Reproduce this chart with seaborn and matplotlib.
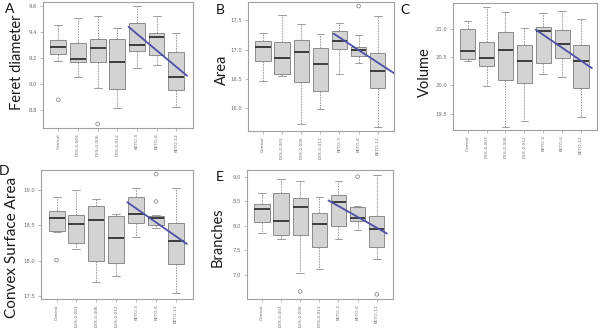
import matplotlib
matplotlib.use("Agg")
import matplotlib.pyplot as plt
import numpy as np
import pandas as pd
import seaborn as sns

groups = ["Control", "DES-0.003", "DES-0.006", "DES-0.012", "KETO-3", "KETO-6", "KETO-12"]

# Per group: lower whisker, Q1, median, Q3, upper whisker
feret = [
    [9.180, 9.228, 9.282, 9.338, 9.454],
    [9.056, 9.167, 9.195, 9.313, 9.513],
    [8.969, 9.172, 9.279, 9.346, 9.523],
    [8.813, 8.959, 9.172, 9.344, 9.430],
    [9.126, 9.254, 9.300, 9.467, 9.600],
    [9.146, 9.223, 9.364, 9.397, 9.526],
    [8.818, 8.954, 9.056, 9.244, 9.397],
]
feret_outliers = [("Control", 8.877), ("DES-0.006", 8.690)]
feret_trend_x = [3.57, 6.55]
feret_trend_y = [9.441, 9.062]

area = [
    [16.46, 16.80, 17.051, 17.148, 17.29],
    [16.557, 16.585, 16.858, 17.13, 17.585],
    [15.74, 16.45, 16.966, 17.17, 17.43],
    [15.99, 16.30, 16.756, 17.034, 17.26],
    [16.58, 17.017, 17.142, 17.324, 17.455],
    [16.78, 16.886, 17.00, 17.045, 17.25],
    [15.68, 16.347, 16.642, 16.95, 17.574],
]
area_outliers = [("KETO-6", 17.74)]
area_trend_x = [3.70, 6.84]
area_trend_y = [17.27, 16.60]

volume = [
    [20.43, 20.465, 20.612, 20.994, 21.147],
    [19.99, 20.353, 20.488, 20.77, 21.38],
    [19.265, 20.09, 20.635, 20.94, 21.306],
    [19.38, 20.035, 20.424, 20.72, 21.01],
    [20.206, 20.406, 20.965, 21.035, 21.28],
    [20.147, 20.494, 20.74, 20.98, 21.31],
    [19.44, 19.947, 20.44, 20.71, 21.18],
]
volume_outliers = []
volume_trend_x = [3.60, 6.58]
volume_trend_y = [20.988, 20.306]

convex = [
    [18.40, 18.42, 18.608, 18.698, 18.90],
    [18.17, 18.245, 18.524, 18.646, 19.01],
    [17.698, 17.995, 18.58, 18.77, 18.873],
    [17.774, 17.958, 18.325, 18.637, 18.66],
    [18.33, 18.528, 18.665, 18.90, 19.03],
    [18.46, 18.51, 18.60, 18.64, 18.645],
    [17.533, 17.953, 18.283, 18.528, 19.033],
]
convex_outliers = [("Control", 18.005), ("KETO-6", 19.23), ("KETO-6", 18.84)]
convex_trend_x = [3.55, 6.54]
convex_trend_y = [18.83, 18.236]

branches = [
    [7.855, 8.084, 8.34, 8.441, 8.663],
    [7.72, 7.82, 8.104, 8.67, 8.96],
    [7.04, 7.82, 8.387, 8.562, 8.92],
    [7.114, 7.572, 8.03, 8.26, 8.576],
    [7.72, 8.00, 8.481, 8.616, 8.92],
    [7.916, 8.098, 8.165, 8.387, 8.40],
    [7.317, 7.566, 7.93, 8.192, 9.04],
]
branches_outliers = [("DES-0.006", 6.663), ("KETO-6", 9.00), ("KETO-12", 6.603)]
branches_trend_x = [3.48, 6.53]
branches_trend_y = [8.515, 7.842]

BOX_FACE = "#d3d3d3"
BOX_EDGE = "#8c8c8c"
MEDIAN = "#3c3c3c"
FRAME = "#a0a0a0"
TICK_TEXT = "#6e6e6e"
TREND = "#4f4fa8"

sns.set_style("white")
plt.rcParams["font.family"] = ["Lato", "DejaVu Sans"]

W, H = 600, 331
fig = plt.figure(figsize=(6.0, 3.31), dpi=100)


def px_rect(left, top, right, bottom):
    return [left / W, 1 - bottom / H, (right - left) / W, (bottom - top) / H]


def draw_panel(box, stats, outliers, tx, ty, ylim, yticks, ylabel, lab_xy, lab_size,
               letter, letter_xy):
    ax = fig.add_axes(px_rect(*box))
    rows = [{"group": g, "value": v} for g, s in zip(groups, stats) for v in s]
    df = pd.DataFrame(rows)
    sns.boxplot(
        data=df, x="group", y="value", order=groups, ax=ax, width=0.8,
        whis=(0, 100), showfliers=False, color=BOX_FACE, linecolor=BOX_EDGE,
        linewidth=0.7,
        medianprops=dict(color=MEDIAN, linewidth=1.4),
        whiskerprops=dict(color=BOX_EDGE, linestyle=(0, (2.0, 1.2)), linewidth=0.6),
        capprops=dict(color=BOX_EDGE, linewidth=0.6),
    )
    if outliers:
        ox = [groups.index(g) for g, _ in outliers]
        oy = [v for _, v in outliers]
        ax.scatter(ox, oy, s=7, facecolors="none", edgecolors=BOX_EDGE,
                   linewidths=0.6, zorder=3)
    ax.plot(tx, ty, color=TREND, linewidth=1.3, zorder=4)

    ax.set_xlim(-0.78, 6.85)
    ax.set_ylim(*ylim)
    ax.set_yticks(yticks)
    ax.set_yticklabels([f"{t:.1f}" for t in yticks])
    ax.set_xlabel("")
    ax.set_ylabel("")
    for sp in ax.spines.values():
        sp.set_visible(True)
        sp.set_color(FRAME)
        sp.set_linewidth(0.8)
    ax.tick_params(axis="both", which="major", direction="out", length=2.5,
                   width=0.5, color=FRAME, labelsize=3.8, labelcolor=TICK_TEXT,
                   pad=1.5, left=True, bottom=True)
    ax.tick_params(axis="x", labelrotation=90, labelsize=3.2, pad=1.2)
    for t in ax.get_xticklabels() + ax.get_yticklabels():
        t.set_fontfamily("DejaVu Sans")

    fig.text(lab_xy[0] / W, 1 - lab_xy[1] / H, ylabel, rotation=90,
             ha="center", va="center", fontsize=lab_size, color="#1a1a1a")
    fig.text(letter_xy[0] / W, 1 - letter_xy[1] / H, letter, ha="center",
             va="center", fontsize=10, color="#111111")
    return ax


draw_panel((43, 2, 193, 128), feret, feret_outliers, feret_trend_x, feret_trend_y,
           (8.659, 9.633), [8.8, 9.0, 9.2, 9.4, 9.6], "Feret diameter", (17, 62), 10.5,
           "A", (10, 9))
draw_panel((248, 2, 394, 131), area, area_outliers, area_trend_x, area_trend_y,
           (15.614, 17.81), [16.0, 16.5, 17.0, 17.5], "Area", (222, 70), 10.5,
           "B", (220, 10))
draw_panel((453, 3, 597, 130), volume, volume_outliers, volume_trend_x, volume_trend_y,
           (19.212, 21.459), [19.5, 20.0, 20.5, 21.0], "Volume", (425, 72), 10.5,
           "C", (405, 10))
draw_panel((41, 170, 193, 299), convex, convex_outliers, convex_trend_x, convex_trend_y,
           (17.453, 19.288), [17.5, 18.0, 18.5, 19.0], "Convex Surface Area", (12, 247), 11,
           "D", (4, 171))
draw_panel((247, 170, 393, 299), branches, branches_outliers, branches_trend_x,
           branches_trend_y, (6.508, 9.135), [7.0, 7.5, 8.0, 8.5, 9.0], "Branches",
           (218, 237), 10.5, "E", (220, 177))

fig.savefig("out.png", dpi=100)
